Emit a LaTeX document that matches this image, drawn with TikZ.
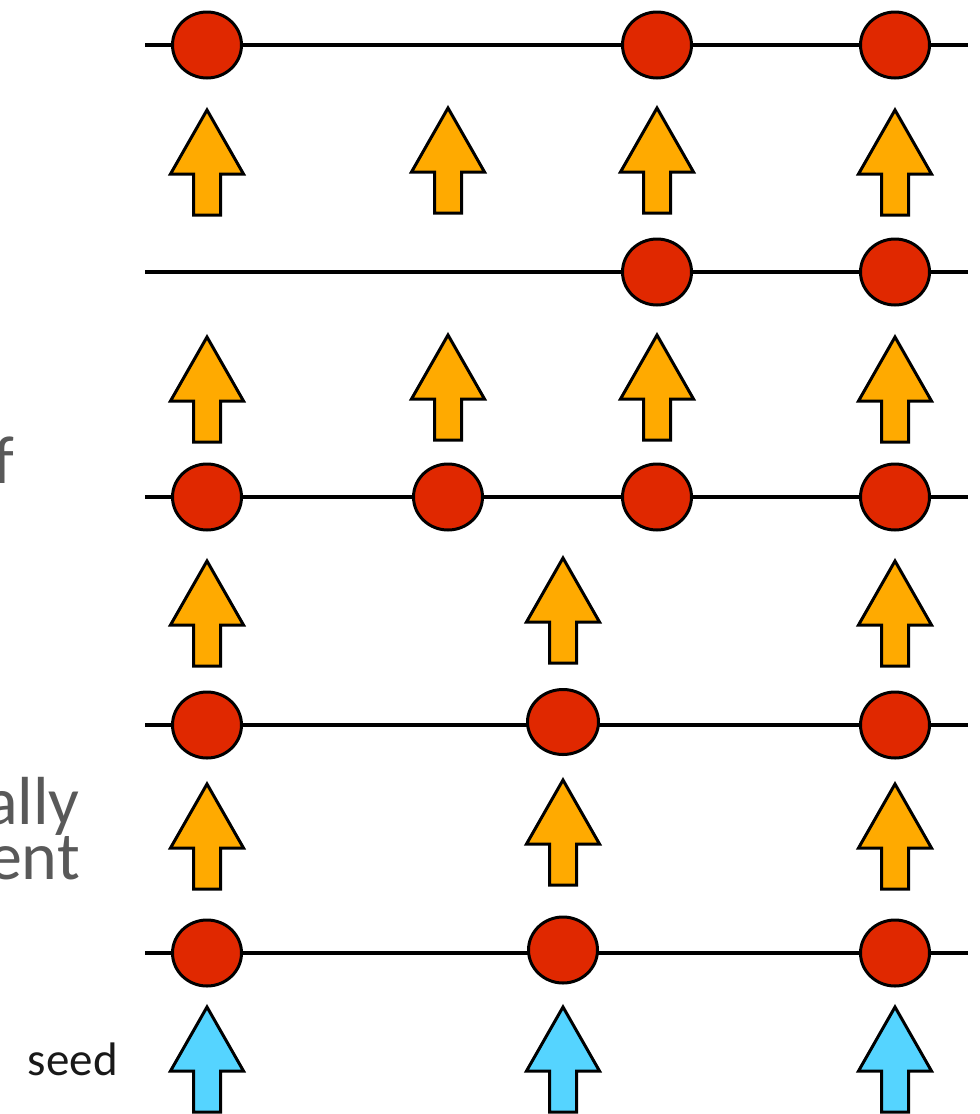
\documentclass[tikz,border=0pt]{standalone}
\usepackage{fontspec}
\setmainfont{Carlito}
\usetikzlibrary{shapes.geometric}
\definecolor{dotred}{RGB}{224,40,0}
\definecolor{arrorange}{RGB}{255,170,0}
\definecolor{arrblue}{RGB}{85,212,255}
\definecolor{txtgray}{RGB}{89,89,89}
\tikzset{
  hline/.style={line width=4.6pt},
  dot/.style={ellipse, draw, line width=3pt, fill=dotred, minimum width=69pt, minimum height=66pt, inner sep=0pt},
  uparrow/.pic={\draw[line width=3pt, line join=miter, pic actions]
      (-13.5,105) -- (-13.5,64) -- (-36.5,64) -- (0,0) -- (36.5,64) -- (13.5,64) -- (13.5,105) -- cycle;},
  orangearrow/.style={fill=arrorange},
  bluearrow/.style={fill=arrblue},
  sidetext/.style={font=\fontsize{68}{68}\selectfont, text=txtgray, inner sep=0pt, anchor=base east},
}
\begin{document}
\begin{tikzpicture}[x=1pt,y=-1pt]
\useasboundingbox (0,0) rectangle (980,1114);
\clip (0,0) rectangle (980,1114);
% horizontal lines
\foreach \i/\y in {1/45,2/272,3/497,4/725,5/953}{
  \coordinate (l\i a) at (145,\y);
  \coordinate (l\i b) at (968,\y);
  \draw[hline] (l\i a) -- (l\i b);
}
% dots
\node[dot] (d1a) at (207,45) {};
\node[dot] (d1d) at (657,45) {};
\node[dot] (d1e) at (895,45) {};
\node[dot] (d2d) at (657,272) {};
\node[dot] (d2e) at (895,272) {};
\node[dot] (d3a) at (207,497) {};
\node[dot] (d3b) at (448,497) {};
\node[dot] (d3d) at (657,497) {};
\node[dot] (d3e) at (895,497) {};
\node[dot] (d4a) at (207,725) {};
\node[dot, minimum width=71pt, minimum height=65pt] (d4c) at (563,722) {};
\node[dot] (d4e) at (895,725) {};
\node[dot] (d5a) at (207,953) {};
\node[dot] (d5c) at (563,950) {};
\node[dot] (d5e) at (895,953) {};
% arrows row A
\pic[orangearrow] (aA1) at (207,110) {uparrow};
\pic[orangearrow] (aA2) at (448,108) {uparrow};
\pic[orangearrow] (aA4) at (657,108) {uparrow};
\pic[orangearrow] (aA5) at (895,110) {uparrow};
% row B
\pic[orangearrow] (aB1) at (207,337) {uparrow};
\pic[orangearrow] (aB2) at (448,335) {uparrow};
\pic[orangearrow] (aB4) at (657,335) {uparrow};
\pic[orangearrow] (aB5) at (895,337) {uparrow};
% row C
\pic[orangearrow] (aC1) at (207,561) {uparrow};
\pic[orangearrow] (aC3) at (563,558) {uparrow};
\pic[orangearrow] (aC5) at (895,561) {uparrow};
% row D
\pic[orangearrow] (aD1) at (207,784) {uparrow};
\pic[orangearrow] (aD3) at (563,780) {uparrow};
\pic[orangearrow] (aD5) at (895,784) {uparrow};
% seed arrows
\pic[bluearrow] (aS1) at (207,1007) {uparrow};
\pic[bluearrow] (aS3) at (563,1007) {uparrow};
\pic[bluearrow] (aS5) at (895,1007) {uparrow};
% texts
\node[font=\fontsize{47}{47}\selectfont, text=black!90, inner sep=0pt, anchor=base east] (seed) at (118,1075) {seed};
\node[sidetext] (tf) at (14,483) {f};
\node[sidetext] (tally) at (80,824) {ally};
\node[sidetext] (tent) at (80,879) {ent};
\end{tikzpicture}
\end{document}
